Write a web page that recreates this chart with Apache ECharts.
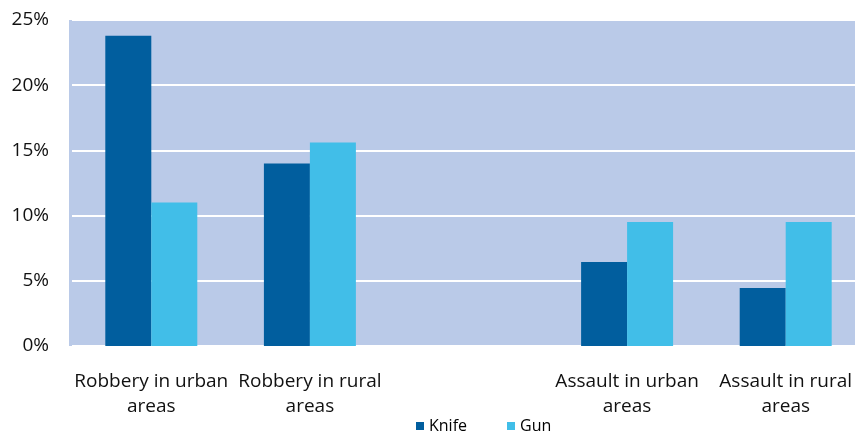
<!DOCTYPE html>
<html>
<head>
<meta charset="utf-8">
<script src="https://cdn.jsdelivr.net/npm/echarts@6/dist/echarts.min.js"></script>
<style>html,body{margin:0;padding:0;background:#fff;}#c{width:855px;height:434px;}</style>
</head>
<body>
<div id="c"></div>
<script>
const categories = ["Robbery in urban\nareas", "Robbery in rural\nareas", "", "Assault in urban\nareas", "Assault in rural\nareas"];
const knife = [23.8, 14.0, null, 6.45, 4.45];
const gun = [11.0, 15.6, null, 9.5, 9.5];
const seriesNames = ["Knife", "Gun"];
const yTicks = [0, 5, 10, 15, 20, 25];

const chart = echarts.init(document.getElementById('c'));
const font = 'Open Sans';
chart.setOption({
  animation: false,
  backgroundColor: '#ffffff',
  graphic: [{
    type: 'rect', z: -10, silent: true,
    shape: { x: 69, y: 20, width: 800, height: 326 },
    style: { fill: '#BACAE8' }
  }],
  grid: { left: 72, width: 793, top: 20, height: 326, containLabel: false, outerBoundsMode: 'none' },
  legend: {
    data: seriesNames,
    left: 411, top: 413,
    itemWidth: 8, itemHeight: 8, itemGap: 40,
    icon: 'rect',
    textStyle: { fontFamily: font, fontSize: 16, color: '#000' }
  },
  xAxis: {
    type: 'category',
    data: categories,
    axisLine: { show: false },
    axisTick: { show: false },
    axisLabel: { interval: 0, fontFamily: font, fontSize: 19, color: '#111', lineHeight: 25, margin: 23 }
  },
  yAxis: {
    type: 'value',
    min: yTicks[0], max: yTicks[yTicks.length - 1], interval: 5,
    axisLine: { show: false },
    axisTick: { show: false },
    splitLine: { lineStyle: { color: '#ffffff', width: 2 } },
    axisLabel: { fontFamily: font, fontSize: 19, color: '#111', margin: 23, formatter: '{value}%' }
  },
  series: [
    { name: seriesNames[0], type: 'bar', data: knife, barGap: '0%', barCategoryGap: '42%',
      itemStyle: { color: '#015E9E' } },
    { name: seriesNames[1], type: 'bar', data: gun, barGap: '0%', barCategoryGap: '42%',
      itemStyle: { color: '#41BEE8' } }
  ]
});
</script>
</body>
</html>
